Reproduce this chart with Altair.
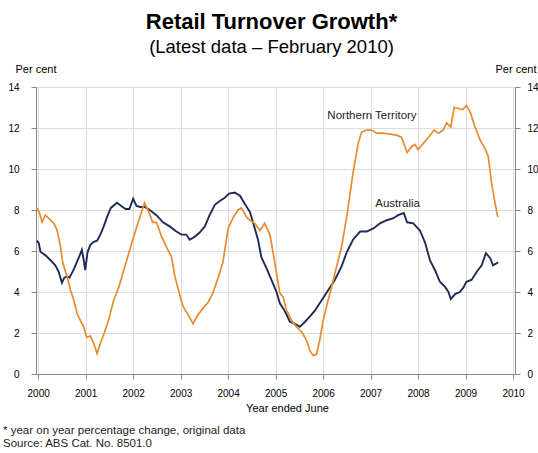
import altair as alt
import pandas as pd

# Year-on-year growth in retail turnover, per cent (monthly, read as decimal years)
AUS_YEAR = [1999.97, 2000.01, 2000.05, 2000.15, 2000.26, 2000.36, 2000.43, 2000.50, 2000.55,
            2000.61, 2000.66, 2000.75, 2000.85, 2000.92, 2000.96, 2000.99, 2001.04, 2001.10,
            2001.17, 2001.24, 2001.31, 2001.38, 2001.45, 2001.53, 2001.66, 2001.75, 2001.84,
            2001.92, 2002.00, 2002.07, 2002.15, 2002.24, 2002.35, 2002.49, 2002.63, 2002.77,
            2002.91, 2003.02, 2003.12, 2003.19, 2003.30, 2003.40, 2003.51, 2003.61, 2003.72,
            2003.83, 2003.93, 2004.02, 2004.14, 2004.25, 2004.35, 2004.46, 2004.53, 2004.63,
            2004.70, 2004.81, 2004.91, 2005.02, 2005.09, 2005.16, 2005.23, 2005.30, 2005.41,
            2005.51, 2005.62, 2005.72, 2005.83, 2005.97, 2006.11, 2006.25, 2006.39, 2006.50,
            2006.63, 2006.78, 2006.92, 2007.06, 2007.20, 2007.34, 2007.48, 2007.58, 2007.70,
            2007.77, 2007.90, 2008.04, 2008.15, 2008.25, 2008.36, 2008.46, 2008.57, 2008.64,
            2008.69, 2008.78, 2008.88, 2008.95, 2009.02, 2009.13, 2009.24, 2009.34, 2009.43,
            2009.52, 2009.58, 2009.69]
AUS_VALUE = [6.5, 6.4, 5.95, 5.8, 5.55, 5.3, 5.0, 4.45, 4.7,
             4.75, 4.7, 5.1, 5.65, 6.05, 5.55, 5.07, 5.95, 6.3,
             6.45, 6.5, 6.8, 7.2, 7.65, 8.1, 8.35, 8.2, 8.05,
             8.05, 8.55, 8.2, 8.15, 8.15, 8.0, 7.75, 7.4, 7.2,
             6.95, 6.8, 6.8, 6.55, 6.7, 6.9, 7.2, 7.75, 8.25,
             8.45, 8.6, 8.8, 8.85, 8.7, 8.3, 7.9, 7.35, 6.55,
             5.7, 5.15, 4.6, 4.0, 3.45, 3.2, 2.9, 2.55, 2.45,
             2.3, 2.55, 2.8, 3.1, 3.6, 4.1, 4.6, 5.25, 5.95,
             6.55, 6.95, 6.95, 7.1, 7.35, 7.5, 7.6, 7.75, 7.85,
             7.4, 7.35, 7.0, 6.4, 5.55, 5.05, 4.5, 4.25, 4.0,
             3.65, 3.9, 4.0, 4.2, 4.5, 4.6, 5.0, 5.3, 5.9,
             5.65, 5.3, 5.45]

NT_YEAR = [1999.97, 2000.03, 2000.08, 2000.15, 2000.24, 2000.33, 2000.40, 2000.47, 2000.52,
           2000.61, 2000.68, 2000.75, 2000.82, 2000.89, 2000.96, 2001.02, 2001.10, 2001.17,
           2001.24, 2001.31, 2001.40, 2001.49, 2001.59, 2001.70, 2001.80, 2001.91, 2002.01,
           2002.12, 2002.24, 2002.34, 2002.41, 2002.49, 2002.60, 2002.70, 2002.81, 2002.88,
           2002.97, 2003.05, 2003.16, 2003.26, 2003.37, 2003.47, 2003.58, 2003.68, 2003.79,
           2003.89, 2004.00, 2004.11, 2004.21, 2004.28, 2004.39, 2004.46, 2004.56, 2004.67,
           2004.77, 2004.88, 2004.95, 2005.02, 2005.09, 2005.16, 2005.23, 2005.34, 2005.44,
           2005.55, 2005.65, 2005.72, 2005.79, 2005.86, 2005.93, 2006.00, 2006.09, 2006.18,
           2006.28, 2006.39, 2006.50, 2006.63, 2006.74, 2006.81, 2006.92, 2007.02, 2007.13,
           2007.27, 2007.41, 2007.55, 2007.65, 2007.70, 2007.77, 2007.87, 2007.93, 2008.00,
           2008.11, 2008.22, 2008.34, 2008.43, 2008.53, 2008.60, 2008.69, 2008.76, 2008.85,
           2008.94, 2009.02, 2009.11, 2009.20, 2009.31, 2009.41, 2009.48, 2009.55, 2009.62,
           2009.68]
NT_VALUE = [8.1, 7.85, 7.4, 7.75, 7.55, 7.35, 7.0, 6.2, 5.4,
            4.75, 4.1, 3.6, 2.95, 2.6, 2.3, 1.8, 1.85, 1.5,
            1.0, 1.5, 2.05, 2.7, 3.6, 4.25, 5.05, 5.9, 6.7,
            7.5, 8.35, 7.85, 7.4, 7.4, 6.7, 6.2, 5.7, 4.75,
            3.95, 3.3, 2.9, 2.45, 2.9, 3.2, 3.5, 3.95, 4.7,
            5.45, 7.1, 7.65, 8.0, 8.1, 7.65, 7.5, 7.35, 7.0,
            7.35, 6.8, 5.9, 4.9, 3.95, 3.75, 3.1, 2.6, 2.3,
            2.05, 1.65, 1.15, 0.9, 0.95, 1.65, 2.6, 3.45, 4.25,
            5.2, 6.2, 7.7, 9.8, 11.25, 11.8, 11.9, 11.9, 11.75,
            11.75, 11.7, 11.65, 11.55, 11.25, 10.8, 11.1, 11.2, 10.95,
            11.25, 11.55, 11.9, 11.75, 11.9, 12.25, 12.05, 13.0, 12.95,
            12.9, 13.1, 12.7, 12.05, 11.4, 11.0, 10.6, 9.3, 8.35,
            7.65]

X_TICKS = list(range(2000, 2011))
Y_TICKS = [0, 2, 4, 6, 8, 10, 12, 14]

LABEL_TEXT = ["Northern Territory", "Australia"]
LABEL_YEAR = [2007.03, 2007.57]
LABEL_VALUE = [12.58, 8.27]

TITLE = "Retail Turnover Growth*"
SUBTITLE = "(Latest data – February 2010)"
FOOTNOTES = ["* year on year percentage change,  original data", "Source: ABS Cat. No. 8501.0"]

FONT = "Liberation Sans"
NAVY = "#1f2a56"
ORANGE = "#e98b2e"
INK = "#222222"

aus = pd.DataFrame({"year": AUS_YEAR, "value": AUS_VALUE, "series": "Australia"})
nt = pd.DataFrame({"year": NT_YEAR, "value": NT_VALUE, "series": "Northern Territory"})
labels = pd.DataFrame({"year": LABEL_YEAR, "value": LABEL_VALUE, "text": LABEL_TEXT})
notes = pd.DataFrame({"text": ["\n".join(FOOTNOTES)]})

x_scale = alt.Scale(domain=[1999.954, 2010.042], nice=False, zero=False)
y_scale = alt.Scale(domain=[0, 14], nice=False, zero=True)

x_axis = alt.Axis(values=X_TICKS, format="d", title="Year ended June",
                  labelPadding=9, titleX=251, titleY=37, titleAlign="center",
                  titleBaseline="alphabetic", titleFontWeight="normal")


def y_axis(side, title_x, pad):
    return alt.Axis(values=Y_TICKS, orient=side, title="Per cent", titleAngle=0,
                    titleAlign="left", titleBaseline="alphabetic", titleX=title_x,
                    titleY=-15, titleFontWeight="normal", labelPadding=pad)


X = alt.X("year:Q", scale=x_scale, axis=x_axis)
Y_LEFT = alt.Y("value:Q", scale=y_scale, axis=y_axis("left", -21, 12))
Y_RIGHT = alt.Y("value:Q", scale=y_scale, axis=y_axis("right", -20, 7))

aus_line = alt.Chart(aus).mark_line(color=NAVY, strokeWidth=1.9).encode(x=X, y=Y_LEFT)
nt_line = alt.Chart(nt).mark_line(color=ORANGE, strokeWidth=1.7).encode(x=X, y=Y_LEFT)
series_text = alt.Chart(labels).mark_text(
    font=FONT, fontSize=11.5, color=INK, align="center", baseline="middle"
).encode(x=X, y=Y_LEFT, text="text:N")
footnote = alt.Chart(notes).mark_text(
    font=FONT, fontSize=11.5, color=INK, align="left", baseline="alphabetic",
    lineBreak="\n", lineHeight=13
).encode(x=alt.value(-33), y=alt.value(347), text="text:N")

left_side = alt.layer(aus_line, nt_line, series_text, footnote)
right_side = alt.Chart(aus).mark_line(opacity=0).encode(x=X, y=Y_RIGHT)

chart = (
    alt.layer(left_side, right_side)
    .resolve_scale(y="independent")
    .properties(
        width=479,
        height=287,
        autosize=alt.AutoSizeParams(type="none"),
        padding={"left": 36, "top": 87, "right": 23, "bottom": 79},
        title=alt.Title(
            TITLE, subtitle=SUBTITLE, anchor="middle", offset=6, dx=-4,
            font=FONT, fontSize=22, fontWeight="bold", color="black",
            subtitleFont=FONT, subtitleFontSize=18.5, subtitleColor="black",
            subtitlePadding=4,
        ),
    )
    .configure_view(stroke="#808080", strokeWidth=1.5)
    .configure_axis(
        domain=False, ticks=False, grid=False,
        labelFont=FONT, labelFontSize=11, labelColor=INK,
        titleFont=FONT, titleFontSize=11, titleColor=INK,
    )
    .configure(background="white")
)

chart.save("out.html", embed_options={"renderer": "svg", "actions": False})
